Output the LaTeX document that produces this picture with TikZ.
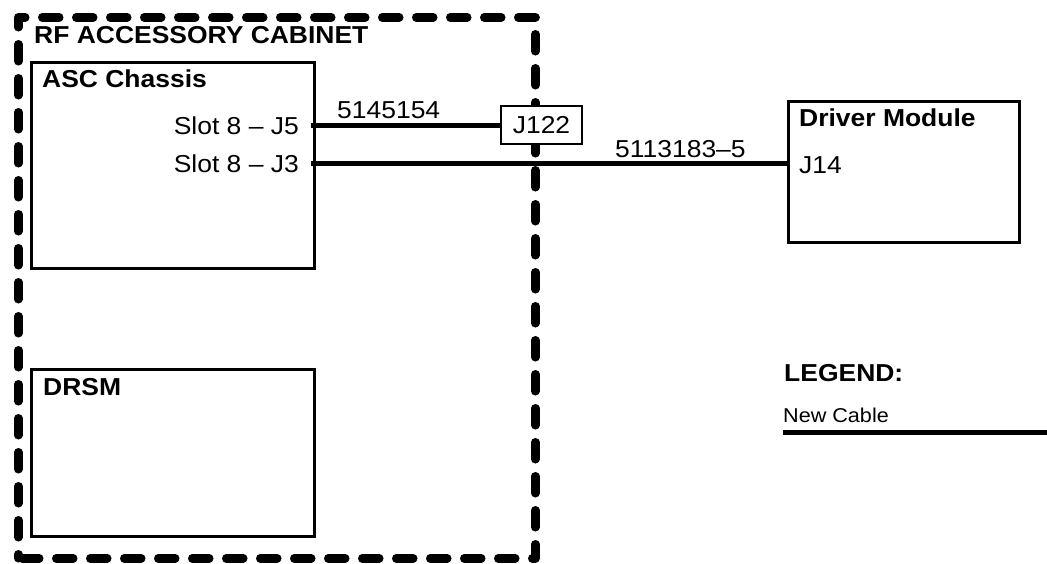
\documentclass[tikz,border=0pt]{standalone}
\usepackage{fontspec}
\setmainfont[FakeStretch=1.08]{Liberation Sans}
\begin{document}
\begin{tikzpicture}[x=1pt,y=-1pt,
  box/.style={draw, line width=3pt, inner sep=0pt, anchor=north west},
  cabinet/.style={draw, line width=8.5pt, line cap=round, line join=round, dash pattern=on 17pt off 17pt, dash phase=-4pt, inner sep=0pt, anchor=north west},
  cable/.style={line width=5pt},
  lbl/.style={inner sep=0pt, font=\fontsize{24.5}{28}\selectfont},
  blbl/.style={lbl, font=\fontsize{24.5}{28}\selectfont\bfseries},
  slbl/.style={inner sep=0pt, font=\fontsize{20}{24}\selectfont}]
\useasboundingbox (0,0) rectangle (1047,563);
% cabinet
\node[cabinet, minimum width=517pt, minimum height=541pt] (cab) at (14,13) {};
\node[blbl, anchor=base west] (cabt) at (34,43) {RF ACCESSORY CABINET};
% ASC chassis
\node[box, minimum width=283pt, minimum height=206pt] (asc) at (30,61) {};
\node[blbl, anchor=base west] (asct) at (42,87) {ASC Chassis};
\node[lbl, anchor=base east] (s5) at (299,134) {Slot 8 -- J5};
\node[lbl, anchor=base east] (s3) at (299,172) {Slot 8 -- J3};
% DRSM
\node[box, minimum width=283pt, minimum height=167pt] (drsm) at (30,368) {};
\node[blbl, anchor=base west] (drsmt) at (43,395) {DRSM};
% J122
\node[draw, line width=2pt, fill=white, inner sep=0pt, minimum width=81pt, minimum height=38pt, font=\fontsize{24.5}{28}\selectfont] (j122) at (541.5,125) {J122};
% Driver module
\node[box, minimum width=231pt, minimum height=141pt] (drv) at (787,100) {};
\node[blbl, anchor=base west] (drvt) at (799,126) {Driver Module};
\node[lbl, anchor=base west] (j14) at (799,173) {J14};
% cables
\coordinate (p5) at (311,125);
\coordinate (p3) at (311,163);
\draw[cable] (p5) -- (j122.west);
\node[lbl, anchor=base west] (c1) at (337,118) {5145154};
\draw[cable] (p3) -- (drv.west |- p3);
\node[lbl, anchor=base west] (c2) at (615,157) {5113183--5};
% legend
\node[blbl, anchor=base west] (leg) at (784,381) {LEGEND:};
\node[slbl, anchor=base west] (nc) at (783,422) {New Cable};
\coordinate (l1) at (783,432);
\coordinate (l2) at (1047,432);
\draw[cable] (l1) -- (l2);
\end{tikzpicture}
\end{document}
